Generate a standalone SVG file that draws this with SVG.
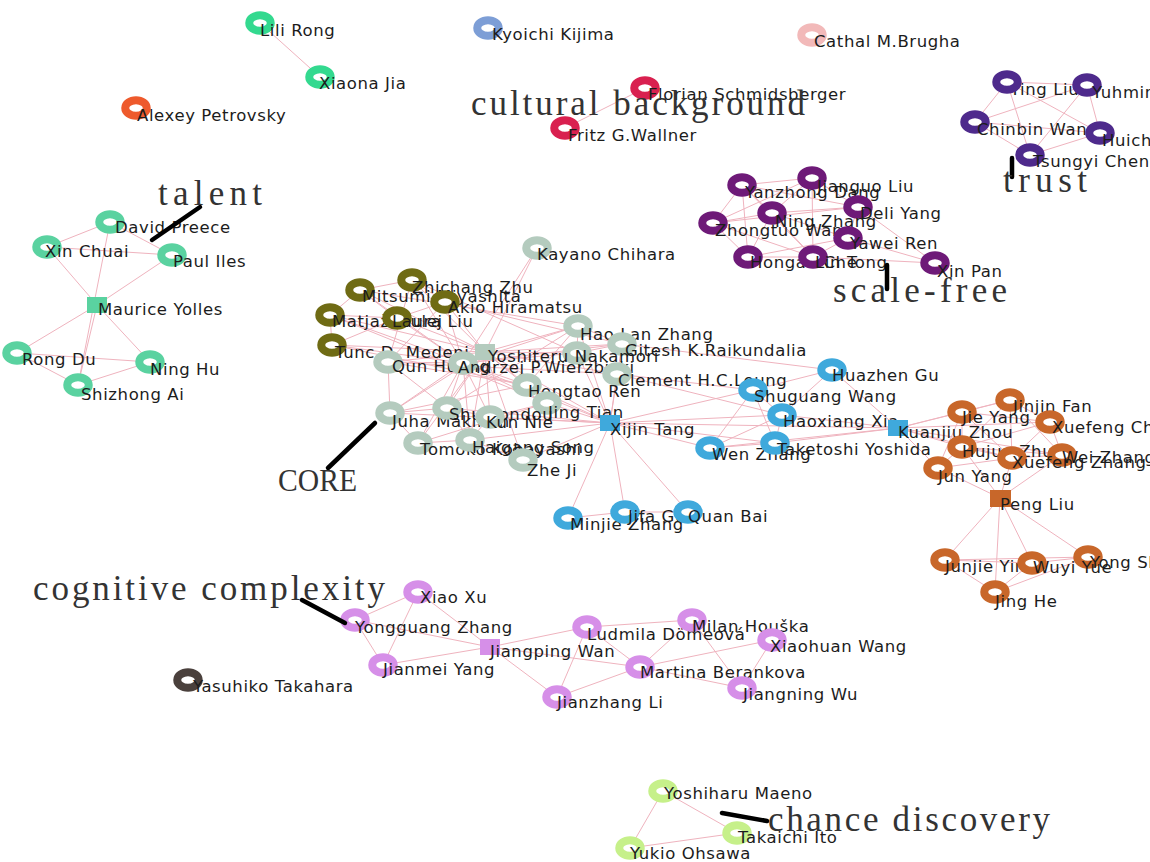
<svg xmlns="http://www.w3.org/2000/svg" width="1150" height="862" viewBox="0 0 1150 862">
<defs>
<style>
.e line{stroke:#efb3be;stroke-width:1}
.r{fill:#fff;stroke-width:8}
.t{font-family:"DejaVu Sans",Verdana,sans-serif;font-size:16.5px;letter-spacing:0.6px;fill:#1c1c1c}
.b{font-family:"Liberation Serif","Times New Roman",serif;font-size:35px;fill:#333}
.bs{font-family:"Liberation Serif","Times New Roman",serif;font-size:32px;fill:#333}
.k{stroke:#000;stroke-width:4.5;stroke-linecap:round}
.cA{stroke:#33d98f}.cL{stroke:#5ad2a0}.cO{stroke:#ee5a2c}.cK{stroke:#7d9ed6}.cP{stroke:#f2b9b9}.cR{stroke:#d9204f}
.cT{stroke:#4e2a8c}.cS{stroke:#6e1a78}.cV{stroke:#6f6b14}.cG{stroke:#b4cbbe}.cB{stroke:#3fa9dc}.cN{stroke:#c8672a}
.cM{stroke:#d68fe8}.cY{stroke:#4a403c}.cC{stroke:#c6f08a}
.sL{fill:#5ad2a0}.sG{fill:#b4cbbe}.sB{fill:#3fa9dc}.sN{fill:#c8672a}.sM{fill:#d68fe8}
</style>
</defs>
<rect width="1150" height="862" fill="#fff"/>
<g id="connectors" class="e">
<line x1="260" y1="23" x2="320" y2="77"/>
<line x1="645" y1="88" x2="565" y2="128"/>
<line x1="110" y1="222" x2="47" y2="247"/><line x1="110" y1="222" x2="172" y2="255"/><line x1="47" y1="247" x2="172" y2="255"/>
<line x1="47" y1="247" x2="97" y2="305"/><line x1="172" y1="255" x2="97" y2="305"/><line x1="110" y1="222" x2="78" y2="385"/>
<line x1="97" y1="305" x2="17" y2="353"/><line x1="97" y1="305" x2="150" y2="362"/><line x1="97" y1="305" x2="78" y2="385"/>
<line x1="17" y1="353" x2="150" y2="362"/><line x1="17" y1="353" x2="78" y2="385"/><line x1="150" y1="362" x2="78" y2="385"/>
<line x1="1007" y1="82" x2="1087" y2="85"/><line x1="1007" y1="82" x2="975" y2="122"/><line x1="1007" y1="82" x2="1100" y2="133"/><line x1="1007" y1="82" x2="1030" y2="155"/>
<line x1="1087" y1="85" x2="975" y2="122"/><line x1="1087" y1="85" x2="1100" y2="133"/><line x1="1087" y1="85" x2="1030" y2="155"/>
<line x1="975" y1="122" x2="1100" y2="133"/><line x1="975" y1="122" x2="1030" y2="155"/><line x1="1100" y1="133" x2="1030" y2="155"/>
<line x1="742" y1="185" x2="812" y2="178"/><line x1="742" y1="185" x2="772" y2="213"/><line x1="742" y1="185" x2="713" y2="223"/><line x1="742" y1="185" x2="748" y2="257"/>
<line x1="742" y1="185" x2="858" y2="207"/><line x1="742" y1="185" x2="813" y2="257"/><line x1="812" y1="178" x2="858" y2="207"/><line x1="812" y1="178" x2="772" y2="213"/>
<line x1="812" y1="178" x2="813" y2="257"/><line x1="812" y1="178" x2="713" y2="223"/><line x1="772" y1="213" x2="713" y2="223"/><line x1="772" y1="213" x2="858" y2="207"/>
<line x1="772" y1="213" x2="848" y2="238"/><line x1="772" y1="213" x2="748" y2="257"/><line x1="772" y1="213" x2="813" y2="257"/><line x1="713" y1="223" x2="748" y2="257"/>
<line x1="713" y1="223" x2="813" y2="257"/><line x1="713" y1="223" x2="858" y2="207"/><line x1="748" y1="257" x2="813" y2="257"/><line x1="813" y1="257" x2="848" y2="238"/>
<line x1="858" y1="207" x2="848" y2="238"/><line x1="848" y1="238" x2="935" y2="263"/><line x1="858" y1="207" x2="935" y2="263"/><line x1="813" y1="257" x2="935" y2="263"/>
<line x1="748" y1="257" x2="848" y2="238"/>
<line x1="412" y1="280" x2="360" y2="290"/><line x1="360" y1="290" x2="330" y2="315"/><line x1="330" y1="315" x2="332" y2="345"/><line x1="412" y1="280" x2="445" y2="302"/>
<line x1="445" y1="302" x2="397" y2="318"/><line x1="397" y1="318" x2="360" y2="290"/><line x1="330" y1="315" x2="397" y2="318"/><line x1="332" y1="345" x2="397" y2="318"/>
<line x1="485" y1="352" x2="412" y2="280"/><line x1="485" y1="352" x2="360" y2="290"/><line x1="485" y1="352" x2="445" y2="302"/><line x1="485" y1="352" x2="330" y2="315"/>
<line x1="485" y1="352" x2="397" y2="318"/><line x1="485" y1="352" x2="332" y2="345"/><line x1="485" y1="352" x2="537" y2="248"/><line x1="485" y1="352" x2="388" y2="362"/>
<line x1="485" y1="352" x2="577" y2="353"/><line x1="485" y1="352" x2="578" y2="326"/><line x1="485" y1="352" x2="622" y2="344"/><line x1="485" y1="352" x2="617" y2="374"/>
<line x1="485" y1="352" x2="527" y2="385"/><line x1="485" y1="352" x2="547" y2="403"/><line x1="485" y1="352" x2="390" y2="413"/><line x1="485" y1="352" x2="447" y2="408"/>
<line x1="485" y1="352" x2="490" y2="417"/><line x1="485" y1="352" x2="418" y2="443"/><line x1="485" y1="352" x2="470" y2="440"/><line x1="485" y1="352" x2="523" y2="460"/>
<line x1="463" y1="363" x2="412" y2="280"/><line x1="463" y1="363" x2="360" y2="290"/><line x1="463" y1="363" x2="445" y2="302"/><line x1="463" y1="363" x2="330" y2="315"/>
<line x1="463" y1="363" x2="397" y2="318"/><line x1="463" y1="363" x2="332" y2="345"/><line x1="463" y1="363" x2="537" y2="248"/><line x1="463" y1="363" x2="388" y2="362"/>
<line x1="463" y1="363" x2="390" y2="413"/><line x1="463" y1="363" x2="447" y2="408"/><line x1="463" y1="363" x2="490" y2="417"/><line x1="463" y1="363" x2="418" y2="443"/>
<line x1="463" y1="363" x2="470" y2="440"/><line x1="463" y1="363" x2="527" y2="385"/><line x1="463" y1="363" x2="547" y2="403"/><line x1="463" y1="363" x2="577" y2="353"/>
<line x1="463" y1="363" x2="578" y2="326"/><line x1="463" y1="363" x2="622" y2="344"/><line x1="463" y1="363" x2="610" y2="423"/><line x1="388" y1="362" x2="412" y2="280"/>
<line x1="388" y1="362" x2="445" y2="302"/><line x1="388" y1="362" x2="390" y2="413"/><line x1="388" y1="362" x2="447" y2="408"/><line x1="388" y1="362" x2="527" y2="385"/>
<line x1="390" y1="413" x2="447" y2="408"/><line x1="390" y1="413" x2="418" y2="443"/><line x1="390" y1="413" x2="527" y2="385"/><line x1="447" y1="408" x2="490" y2="417"/>
<line x1="447" y1="408" x2="470" y2="440"/><line x1="447" y1="408" x2="578" y2="326"/><line x1="490" y1="417" x2="470" y2="440"/><line x1="490" y1="417" x2="547" y2="403"/>
<line x1="418" y1="443" x2="470" y2="440"/><line x1="470" y1="440" x2="523" y2="460"/><line x1="527" y1="385" x2="547" y2="403"/><line x1="527" y1="385" x2="578" y2="326"/>
<line x1="577" y1="353" x2="578" y2="326"/><line x1="577" y1="353" x2="622" y2="344"/><line x1="577" y1="353" x2="617" y2="374"/><line x1="578" y1="326" x2="622" y2="344"/>
<line x1="332" y1="345" x2="527" y2="385"/><line x1="330" y1="315" x2="547" y2="403"/><line x1="360" y1="290" x2="578" y2="326"/><line x1="412" y1="280" x2="577" y2="353"/>
<line x1="445" y1="302" x2="622" y2="344"/><line x1="388" y1="362" x2="617" y2="374"/><line x1="390" y1="413" x2="610" y2="423"/><line x1="418" y1="443" x2="547" y2="403"/>
<line x1="610" y1="423" x2="527" y2="385"/><line x1="610" y1="423" x2="547" y2="403"/><line x1="610" y1="423" x2="490" y2="417"/><line x1="610" y1="423" x2="523" y2="460"/>
<line x1="610" y1="423" x2="485" y2="352"/><line x1="610" y1="423" x2="577" y2="353"/><line x1="610" y1="423" x2="578" y2="326"/><line x1="610" y1="423" x2="622" y2="344"/>
<line x1="610" y1="423" x2="617" y2="374"/><line x1="610" y1="423" x2="447" y2="408"/><line x1="610" y1="423" x2="470" y2="440"/><line x1="610" y1="423" x2="568" y2="518"/>
<line x1="610" y1="423" x2="625" y2="512"/><line x1="610" y1="423" x2="688" y2="512"/><line x1="610" y1="423" x2="753" y2="390"/><line x1="610" y1="423" x2="782" y2="415"/>
<line x1="610" y1="423" x2="710" y2="448"/><line x1="610" y1="423" x2="775" y2="443"/><line x1="610" y1="423" x2="898" y2="428"/><line x1="617" y1="374" x2="753" y2="390"/>
<line x1="622" y1="344" x2="832" y2="370"/><line x1="617" y1="374" x2="782" y2="415"/>
<line x1="753" y1="390" x2="832" y2="370"/><line x1="753" y1="390" x2="782" y2="415"/><line x1="753" y1="390" x2="710" y2="448"/><line x1="753" y1="390" x2="775" y2="443"/>
<line x1="782" y1="415" x2="710" y2="448"/><line x1="782" y1="415" x2="775" y2="443"/><line x1="710" y1="448" x2="775" y2="443"/><line x1="782" y1="415" x2="898" y2="428"/>
<line x1="775" y1="443" x2="898" y2="428"/><line x1="832" y1="370" x2="898" y2="428"/><line x1="832" y1="370" x2="782" y2="415"/><line x1="710" y1="448" x2="898" y2="428"/>
<line x1="568" y1="518" x2="625" y2="512"/><line x1="625" y1="512" x2="688" y2="512"/>
<line x1="898" y1="428" x2="962" y2="412"/><line x1="898" y1="428" x2="1010" y2="400"/><line x1="898" y1="428" x2="962" y2="447"/><line x1="898" y1="428" x2="938" y2="468"/>
<line x1="898" y1="428" x2="1050" y2="422"/><line x1="898" y1="428" x2="1012" y2="458"/><line x1="898" y1="428" x2="1062" y2="455"/>
<line x1="962" y1="412" x2="1010" y2="400"/><line x1="962" y1="412" x2="1050" y2="422"/><line x1="962" y1="412" x2="962" y2="447"/><line x1="962" y1="412" x2="1012" y2="458"/>
<line x1="962" y1="412" x2="938" y2="468"/><line x1="1010" y1="400" x2="1050" y2="422"/><line x1="1010" y1="400" x2="962" y2="447"/><line x1="1010" y1="400" x2="1012" y2="458"/>
<line x1="1010" y1="400" x2="1062" y2="455"/><line x1="1050" y1="422" x2="1062" y2="455"/><line x1="1050" y1="422" x2="1012" y2="458"/><line x1="1050" y1="422" x2="962" y2="447"/>
<line x1="962" y1="447" x2="1012" y2="458"/><line x1="962" y1="447" x2="938" y2="468"/><line x1="962" y1="447" x2="1062" y2="455"/><line x1="1012" y1="458" x2="1062" y2="455"/>
<line x1="938" y1="468" x2="1012" y2="458"/><line x1="938" y1="468" x2="1000" y2="498"/><line x1="962" y1="447" x2="1000" y2="498"/><line x1="1012" y1="458" x2="1000" y2="498"/>
<line x1="1062" y1="455" x2="1000" y2="498"/><line x1="1000" y1="498" x2="945" y2="560"/><line x1="1000" y1="498" x2="1032" y2="563"/><line x1="1000" y1="498" x2="1088" y2="557"/>
<line x1="1000" y1="498" x2="995" y2="592"/><line x1="945" y1="560" x2="1032" y2="563"/><line x1="1032" y1="563" x2="1088" y2="557"/><line x1="945" y1="560" x2="1088" y2="557"/>
<line x1="945" y1="560" x2="995" y2="592"/><line x1="1032" y1="563" x2="995" y2="592"/><line x1="1088" y1="557" x2="995" y2="592"/>
<line x1="355" y1="620" x2="418" y2="592"/><line x1="355" y1="620" x2="383" y2="665"/><line x1="418" y1="592" x2="383" y2="665"/><line x1="418" y1="592" x2="490" y2="647"/>
<line x1="355" y1="620" x2="490" y2="647"/><line x1="383" y1="665" x2="490" y2="647"/><line x1="490" y1="647" x2="587" y2="627"/><line x1="490" y1="647" x2="557" y2="697"/>
<line x1="490" y1="647" x2="640" y2="667"/><line x1="587" y1="627" x2="692" y2="620"/><line x1="587" y1="627" x2="640" y2="667"/><line x1="587" y1="627" x2="557" y2="697"/>
<line x1="640" y1="667" x2="557" y2="697"/><line x1="640" y1="667" x2="772" y2="640"/><line x1="692" y1="620" x2="640" y2="667"/><line x1="692" y1="620" x2="742" y2="688"/>
<line x1="772" y1="640" x2="742" y2="688"/><line x1="640" y1="667" x2="742" y2="688"/>
<line x1="663" y1="791" x2="737" y2="833"/><line x1="663" y1="791" x2="630" y2="848"/><line x1="737" y1="833" x2="630" y2="848"/>
</g>
<g id="nodes-top">
<g id="n-lili-rong"><ellipse class="r cA" cx="260" cy="23" rx="10.75" ry="7.75"/><text class="t" x="260" y="36">Lili Rong</text></g>
<g id="n-xiaona-jia"><ellipse class="r cA" cx="320" cy="77" rx="10.75" ry="7.75"/><text class="t" x="319" y="89">Xiaona Jia</text></g>
<g id="n-alexey-petrovsky"><ellipse class="r cO" cx="136" cy="108" rx="10.75" ry="7.75"/><text class="t" x="137" y="121">Alexey Petrovsky</text></g>
<g id="n-kyoichi-kijima"><ellipse class="r cK" cx="488" cy="28" rx="10.75" ry="7.75"/><text class="t" x="492" y="40">Kyoichi Kijima</text></g>
<g id="n-cathal-brugha"><ellipse class="r cP" cx="812" cy="35" rx="10.75" ry="7.75"/><text class="t" x="814" y="47">Cathal M.Brugha</text></g>
<g id="n-florian"><ellipse class="r cR" cx="645" cy="88" rx="10.75" ry="7.75"/><text class="t" x="648" y="100">Florian Schmidsberger</text></g>
<g id="n-fritz"><ellipse class="r cR" cx="565" cy="128" rx="10.75" ry="7.75"/><text class="t" x="568" y="141">Fritz G.Wallner</text></g>
</g>
<g id="nodes-trust">
<g id="n-ying-liu"><text class="t" x="1010" y="95">Ying Liu</text><ellipse class="r cT" cx="1007" cy="82" rx="10.75" ry="7.75"/></g>
<g id="n-chinbin-wang"><ellipse class="r cT" cx="975" cy="122" rx="10.75" ry="7.75"/><text class="t" x="977" y="135">Chinbin Wang</text></g>
<g id="n-yuhmin"><ellipse class="r cT" cx="1087" cy="85" rx="10.75" ry="7.75"/><text class="t" x="1092" y="98">Yuhmin Chen</text></g>
<g id="n-huich"><ellipse class="r cT" cx="1100" cy="133" rx="10.75" ry="7.75"/><text class="t" x="1102" y="146">Huichen Tsai</text></g>
<g id="n-tsungyi-chen"><ellipse class="r cT" cx="1030" cy="155" rx="10.75" ry="7.75"/><text class="t" x="1033" y="167">Tsungyi Chen</text></g>
</g>
<g id="nodes-scalefree">
<g id="n-yanzhong-dang"><ellipse class="r cS" cx="742" cy="185" rx="10.75" ry="7.75"/><text class="t" x="745" y="198">Yanzhong Dang</text></g>
<g id="n-jianguo-liu"><ellipse class="r cS" cx="812" cy="178" rx="10.75" ry="7.75"/><text class="t" x="817" y="192">Jianguo Liu</text></g>
<g id="n-deli-yang"><ellipse class="r cS" cx="858" cy="207" rx="10.75" ry="7.75"/><text class="t" x="860" y="219">Deli Yang</text></g>
<g id="n-ning-zhang"><ellipse class="r cS" cx="772" cy="213" rx="10.75" ry="7.75"/><text class="t" x="775" y="227">Ning Zhang</text></g>
<g id="n-zhongtuo-wang"><ellipse class="r cS" cx="713" cy="223" rx="10.75" ry="7.75"/><text class="t" x="715" y="236">Zhongtuo Wang</text></g>
<g id="n-yawei-ren"><ellipse class="r cS" cx="848" cy="238" rx="10.75" ry="7.75"/><text class="t" x="850" y="249">Yawei Ren</text></g>
<g id="n-hongan-che"><ellipse class="r cS" cx="748" cy="257" rx="10.75" ry="7.75"/><text class="t" x="750" y="268">Hongan Che</text></g>
<g id="n-lin-tong"><ellipse class="r cS" cx="813" cy="257" rx="10.75" ry="7.75"/><text class="t" x="815" y="268">Lin Tong</text></g>
<g id="n-xin-pan"><ellipse class="r cS" cx="935" cy="263" rx="10.75" ry="7.75"/><text class="t" x="937" y="277">Xin Pan</text></g>
</g>
<g id="nodes-left">
<g id="n-david-preece"><ellipse class="r cL" cx="110" cy="222" rx="10.75" ry="7.75"/><text class="t" x="115" y="233">David Preece</text></g>
<g id="n-xin-chuai"><ellipse class="r cL" cx="47" cy="247" rx="10.75" ry="7.75"/><text class="t" x="45" y="257">Xin Chuai</text></g>
<g id="n-paul-iles"><ellipse class="r cL" cx="172" cy="255" rx="10.75" ry="7.75"/><text class="t" x="173" y="267">Paul Iles</text></g>
<g id="n-maurice-yolles"><rect class="sL" x="87" y="297" width="20" height="16"/><text class="t" x="98" y="315">Maurice Yolles</text></g>
<g id="n-rong-du"><ellipse class="r cL" cx="17" cy="353" rx="10.75" ry="7.75"/><text class="t" x="22" y="365">Rong Du</text></g>
<g id="n-ning-hu"><ellipse class="r cL" cx="150" cy="362" rx="10.75" ry="7.75"/><text class="t" x="150" y="375">Ning Hu</text></g>
<g id="n-shizhong-ai"><ellipse class="r cL" cx="78" cy="385" rx="10.75" ry="7.75"/><text class="t" x="81" y="400">Shizhong Ai</text></g>
</g>
<g id="nodes-core">
<g id="n-kayano-chihara"><ellipse class="r cG" cx="537" cy="248" rx="10.75" ry="7.75"/><text class="t" x="537" y="260">Kayano Chihara</text></g>
<g id="n-zhichang-zhu"><ellipse class="r cV" cx="412" cy="280" rx="10.75" ry="7.75"/><text class="t" x="412" y="293">Zhichang Zhu</text></g>
<g id="n-mitsumi"><ellipse class="r cV" cx="360" cy="290" rx="10.75" ry="7.75"/><text class="t" x="362" y="302">Mitsumi Miyashita</text></g>
<g id="n-akio-hiramatsu"><ellipse class="r cV" cx="445" cy="302" rx="10.75" ry="7.75"/><text class="t" x="448" y="313">Akio Hiramatsu</text></g>
<g id="n-matjaz-mulej"><ellipse class="r cV" cx="330" cy="315" rx="10.75" ry="7.75"/><text class="t" x="332" y="327">Matjaž Mulej</text></g>
<g id="n-laura-liu"><ellipse class="r cV" cx="397" cy="318" rx="10.75" ry="7.75"/><text class="t" x="392" y="327">Laura Liu</text></g>
<g id="n-tunc-medeni"><ellipse class="r cV" cx="332" cy="345" rx="10.75" ry="7.75"/><text class="t" x="335" y="358">Tunc D. Medeni</text></g>
<g id="n-hao-lan-zhang"><ellipse class="r cG" cx="578" cy="326" rx="10.75" ry="7.75"/><text class="t" x="580" y="340">Hao Lan Zhang</text></g>
<g id="n-gitesh"><ellipse class="r cG" cx="622" cy="344" rx="10.75" ry="7.75"/><text class="t" x="625" y="356">Gitesh K.Raikundalia</text></g>
<g id="n-core-unl"><ellipse class="r cG" cx="577" cy="353" rx="10.75" ry="7.75"/></g>
<g id="n-yoshiteru"><rect class="sG" x="475" y="344" width="20" height="16"/><text class="t" x="488" y="362">Yoshiteru Nakamori</text></g>
<g id="n-qun-huang"><ellipse class="r cG" cx="388" cy="362" rx="10.75" ry="7.75"/><text class="t" x="392" y="372">Qun Huang</text></g>
<g id="n-andrzej"><ellipse class="r cG" cx="463" cy="363" rx="10.75" ry="7.75"/><text class="t" x="458" y="373">Andrzej P.Wierzbicki</text></g>
<g id="n-clement"><ellipse class="r cG" cx="617" cy="374" rx="10.75" ry="7.75"/><text class="t" x="618" y="386">Clement H.C.Leung</text></g>
<g id="n-hongtao-ren"><ellipse class="r cG" cx="527" cy="385" rx="10.75" ry="7.75"/><text class="t" x="528" y="397">Hongtao Ren</text></g>
<g id="n-jing-tian"><ellipse class="r cG" cx="547" cy="403" rx="10.75" ry="7.75"/><text class="t" x="548" y="418">Jing Tian</text></g>
<g id="n-juha"><ellipse class="r cG" cx="390" cy="413" rx="10.75" ry="7.75"/><text class="t" x="392" y="427">Juha Makinen</text></g>
<g id="n-shu-kondou"><ellipse class="r cG" cx="447" cy="408" rx="10.75" ry="7.75"/><text class="t" x="449" y="420">Shu Kondou</text></g>
<g id="n-kun-nie"><ellipse class="r cG" cx="490" cy="417" rx="10.75" ry="7.75"/><text class="t" x="486" y="428">Kun Nie</text></g>
<g id="n-tomoko"><ellipse class="r cG" cx="418" cy="443" rx="10.75" ry="7.75"/><text class="t" x="420" y="455">Tomoko Kobayashi</text></g>
<g id="n-haigang-song"><ellipse class="r cG" cx="470" cy="440" rx="10.75" ry="7.75"/><text class="t" x="472" y="453">Haigang Song</text></g>
<g id="n-zhe-ji"><ellipse class="r cG" cx="523" cy="460" rx="10.75" ry="7.75"/><text class="t" x="527" y="476">Zhe Ji</text></g>
</g>
<g id="nodes-blue">
<g id="n-xijin-tang"><rect class="sB" x="600" y="415" width="20" height="16"/><text class="t" x="610" y="435">Xijin Tang</text></g>
<g id="n-huazhen-gu"><ellipse class="r cB" cx="832" cy="370" rx="10.75" ry="7.75"/><text class="t" x="832" y="381">Huazhen Gu</text></g>
<g id="n-shuguang-wang"><ellipse class="r cB" cx="753" cy="390" rx="10.75" ry="7.75"/><text class="t" x="754" y="402">Shuguang Wang</text></g>
<g id="n-haoxiang-xia"><ellipse class="r cB" cx="782" cy="415" rx="10.75" ry="7.75"/><text class="t" x="783" y="427">Haoxiang Xia</text></g>
<g id="n-wen-zhang"><ellipse class="r cB" cx="710" cy="448" rx="10.75" ry="7.75"/><text class="t" x="712" y="460">Wen Zhang</text></g>
<g id="n-taketoshi"><ellipse class="r cB" cx="775" cy="443" rx="10.75" ry="7.75"/><text class="t" x="777" y="455">Taketoshi Yoshida</text></g>
<g id="n-kuanjiu-zhou"><rect class="sB" x="888" y="420" width="20" height="16"/><text class="t" x="898" y="438">Kuanjiu Zhou</text></g>
<g id="n-minjie-zhang"><ellipse class="r cB" cx="568" cy="518" rx="10.75" ry="7.75"/><text class="t" x="570" y="530">Minjie Zhang</text></g>
<g id="n-jifa-gu"><ellipse class="r cB" cx="625" cy="512" rx="10.75" ry="7.75"/><text class="t" x="628" y="522">Jifa Gu</text></g>
<g id="n-quan-bai"><ellipse class="r cB" cx="688" cy="512" rx="10.75" ry="7.75"/><text class="t" x="688" y="522">Quan Bai</text></g>
</g>
<g id="nodes-orange">
<g id="n-jinjin-fan"><ellipse class="r cN" cx="1010" cy="400" rx="10.75" ry="7.75"/><text class="t" x="1013" y="412">Jinjin Fan</text></g>
<g id="n-jie-yang"><ellipse class="r cN" cx="962" cy="412" rx="10.75" ry="7.75"/><text class="t" x="962" y="423">Jie Yang</text></g>
<g id="n-xuefeng-chen"><ellipse class="r cN" cx="1050" cy="422" rx="10.75" ry="7.75"/><text class="t" x="1052" y="433">Xuefeng Chen</text></g>
<g id="n-hujun-zhu"><ellipse class="r cN" cx="962" cy="447" rx="10.75" ry="7.75"/><text class="t" x="962" y="457">Hujun Zhu</text></g>
<g id="n-wei-zhang"><ellipse class="r cN" cx="1062" cy="455" rx="10.75" ry="7.75"/><text class="t" x="1062" y="463">Wei Zhang</text></g>
<g id="n-xuefeng-zhang"><ellipse class="r cN" cx="1012" cy="458" rx="10.75" ry="7.75"/><text class="t" x="1012" y="468">Xuefeng Zhang</text></g>
<g id="n-jun-yang"><ellipse class="r cN" cx="938" cy="468" rx="10.75" ry="7.75"/><text class="t" x="938" y="482">Jun Yang</text></g>
<g id="n-peng-liu"><rect class="sN" x="990" y="490" width="21" height="17"/><text class="t" x="1000" y="510">Peng Liu</text></g>
<g id="n-junjie-yin"><ellipse class="r cN" cx="945" cy="560" rx="10.75" ry="7.75"/><text class="t" x="945" y="572">Junjie Yin</text></g>
<g id="n-yong-shi"><ellipse class="r cN" cx="1088" cy="557" rx="10.75" ry="7.75"/><text class="t" x="1090" y="568">Yong Shi</text></g>
<g id="n-wuyi-yue"><ellipse class="r cN" cx="1032" cy="563" rx="10.75" ry="7.75"/><text class="t" x="1033" y="573">Wuyi Yue</text></g>
<g id="n-jing-he"><ellipse class="r cN" cx="995" cy="592" rx="10.75" ry="7.75"/><text class="t" x="995" y="607">Jing He</text></g>
</g>
<g id="nodes-lilac">
<g id="n-xiao-xu"><ellipse class="r cM" cx="418" cy="592" rx="10.75" ry="7.75"/><text class="t" x="420" y="603">Xiao Xu</text></g>
<g id="n-yongguang-zhang"><ellipse class="r cM" cx="355" cy="620" rx="10.75" ry="7.75"/><text class="t" x="355" y="633">Yongguang Zhang</text></g>
<g id="n-jianmei-yang"><ellipse class="r cM" cx="383" cy="665" rx="10.75" ry="7.75"/><text class="t" x="383" y="675">Jianmei Yang</text></g>
<g id="n-jiangping-wan"><rect class="sM" x="480" y="639" width="20" height="16"/><text class="t" x="490" y="657">Jiangping Wan</text></g>
<g id="n-ludmila"><ellipse class="r cM" cx="587" cy="627" rx="10.75" ry="7.75"/><text class="t" x="587" y="640">Ludmila Dömeová</text></g>
<g id="n-milan"><ellipse class="r cM" cx="692" cy="620" rx="10.75" ry="7.75"/><text class="t" x="692" y="632">Milan Houška</text></g>
<g id="n-xiaohuan-wang"><ellipse class="r cM" cx="772" cy="640" rx="10.75" ry="7.75"/><text class="t" x="770" y="652">Xiaohuan Wang</text></g>
<g id="n-martina"><ellipse class="r cM" cx="640" cy="667" rx="10.75" ry="7.75"/><text class="t" x="640" y="678">Martina Berankova</text></g>
<g id="n-jianzhang-li"><ellipse class="r cM" cx="557" cy="697" rx="10.75" ry="7.75"/><text class="t" x="557" y="708">Jianzhang Li</text></g>
<g id="n-jiangning-wu"><ellipse class="r cM" cx="742" cy="688" rx="10.75" ry="7.75"/><text class="t" x="743" y="700">Jiangning Wu</text></g>
<g id="n-yasuhiko"><ellipse class="r cY" cx="188" cy="680" rx="10.75" ry="7.75"/><text class="t" x="193" y="692">Yasuhiko Takahara</text></g>
</g>
<g id="nodes-chance">
<g id="n-yoshiharu"><ellipse class="r cC" cx="663" cy="791" rx="10.75" ry="7.75"/><text class="t" x="664" y="799">Yoshiharu Maeno</text></g>
<g id="n-takaichi"><ellipse class="r cC" cx="737" cy="833" rx="10.75" ry="7.75"/><text class="t" x="738" y="843">Takaichi Ito</text></g>
<g id="n-yukio"><ellipse class="r cC" cx="630" cy="848" rx="10.75" ry="7.75"/><text class="t" x="630" y="859">Yukio Ohsawa</text></g>
</g>
<g id="annotations">
<line class="k" x1="152" y1="240" x2="200" y2="207"/>
<text class="b" x="158" y="205" textLength="104" lengthAdjust="spacing">talent</text>
<text class="b" x="471" y="115" textLength="334" lengthAdjust="spacing">cultural background</text>
<line class="k" x1="1012" y1="158" x2="1012" y2="177"/>
<text class="b" x="1003" y="192" textLength="84" lengthAdjust="spacing">trust</text>
<line class="k" x1="887" y1="265" x2="887" y2="289"/>
<text class="b" x="833" y="302" textLength="174" lengthAdjust="spacing">scale-free</text>
<line class="k" x1="375" y1="423" x2="328" y2="468"/>
<text class="bs" x="278" y="491" textLength="79" lengthAdjust="spacingAndGlyphs">CORE</text>
<line class="k" x1="302" y1="600" x2="345" y2="623"/>
<text class="b" x="33" y="600" textLength="352" lengthAdjust="spacing">cognitive complexity</text>
<line class="k" x1="722" y1="813" x2="767" y2="821"/>
<text class="b" x="768" y="831" textLength="282" lengthAdjust="spacing">chance discovery</text>
</g>
</svg>
